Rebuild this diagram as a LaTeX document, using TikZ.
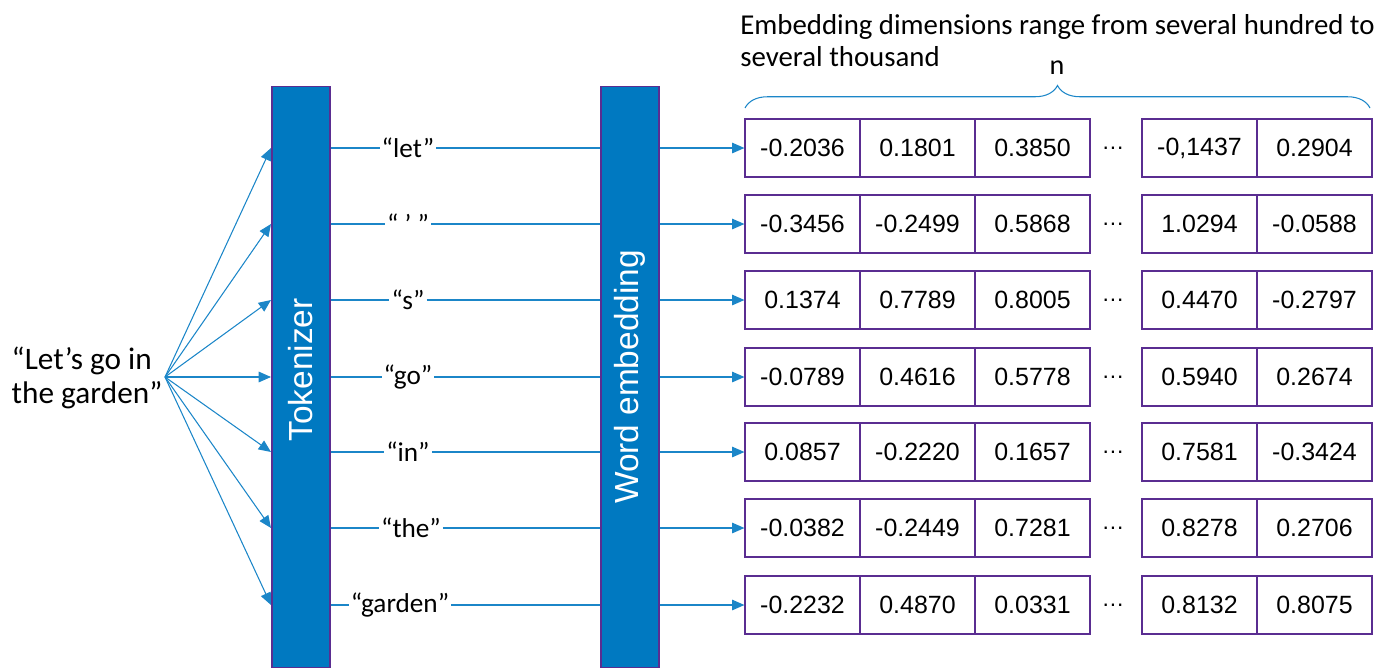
\documentclass[tikz,border=0pt]{standalone}
\usepackage{fontspec}
\setmainfont{Carlito}
\newfontfamily\numfont{Liberation Sans}
\usetikzlibrary{arrows.meta,decorations.pathreplacing}
\definecolor{barblue}{HTML}{0079C1}
\definecolor{lineblue}{HTML}{1B86C8}
\definecolor{edgepurple}{HTML}{5A2D91}
\begin{document}
\begin{tikzpicture}[x=0.02cm,y=-0.02cm,
  bar/.style={draw=edgepurple,line width=0.6pt,fill=barblue,minimum width=1.16cm,minimum height=11.64cm,inner sep=0pt},
  bartext/.style={rotate=90,text=white,font=\numfont\fontsize{19}{22}\selectfont},
  cell/.style={draw=edgepurple,line width=0.7pt,minimum width=2.3cm,minimum height=1.16cm,inner sep=0pt,font=\numfont\fontsize{14.2}{17}\selectfont},
  dotsnode/.style={font=\numfont\fontsize{13}{17}\selectfont},
  tokenlabel/.style={fill=white,inner sep=1pt,font=\fontsize{15.5}{18}\selectfont},
  conn/.style={draw=lineblue,line width=0.6pt},
  arr/.style={conn,-{Triangle[length=7pt,width=6pt]}}]
\useasboundingbox (0,0) rectangle (1400,670);
% bars
\node[bar] (tok) at (301,377) {};
\node[bartext] (toktext) at (301,370) {Tokenizer};
\node[bar] (emb) at (630,377) {};
\node[bartext] (embtext) at (630,377) {Word embedding};
% sentence
\node[align=left,inner sep=0pt,font=\fontsize{17.8}{19}\selectfont] (sent) at (87,378) {“Let’s go in\\the garden”};
\coordinate (src) at (165,377);
% title
\node[anchor=north west,align=left,inner sep=0pt,font=\fontsize{16.4}{18.2}\selectfont] (title) at (740,14) {Embedding dimensions range from several hundred to\\several thousand};
\node[font=\fontsize{16}{18}\selectfont,inner sep=1pt] (n) at (1057,68) {n};
\coordinate (bl) at (745,108);
\coordinate (br) at (1370,108);
\draw[conn,decorate,decoration={brace,amplitude=0.45cm}] (bl) -- (br);
% rows
\foreach \i/\y/\tk/\tx/\a/\b/\c/\d/\e in {
 1/148/{“let”}/408/-0.2036/0.1801/0.3850/{-0,1437}/0.2904,
 2/224/{“ ’ ”}/408/-0.3456/-0.2499/0.5868/1.0294/-0.0588,
 3/300/{“s”}/408/0.1374/0.7789/0.8005/0.4470/-0.2797,
 4/377/{“go”}/408/-0.0789/0.4616/0.5778/0.5940/0.2674,
 5/452/{“in”}/408/0.0857/-0.2220/0.1657/0.7581/-0.3424,
 6/528/{“the”}/411/-0.0382/-0.2449/0.7281/0.8278/0.2706,
 7/605/{“garden”}/400/-0.2232/0.4870/0.0331/0.8132/0.8075}{
  \node[cell] (c\i a) at (802.5,\y) {\a};
  \node[cell] (c\i b) at (917.5,\y) {\b};
  \node[cell] (c\i c) at (1032.5,\y) {\c};
  \node[dotsnode] (dots\i) at (1113,\y) {\dots};
  \node[cell] (c\i d) at (1199.5,\y) {\d};
  \node[cell] (c\i e) at (1314.5,\y) {\e};
  \node[tokenlabel] (t\i) at (\tx,\y) {\tk};
  \coordinate (in\i) at (271,\y);
  \draw[conn] (tok.east |- in\i) -- (t\i);
  \draw[conn] (t\i) -- (emb.west |- in\i);
  \draw[arr] (emb.east |- in\i) -- (c\i a.west);
  \draw[arr] (src) -- (in\i);
}
\end{tikzpicture}
\end{document}
